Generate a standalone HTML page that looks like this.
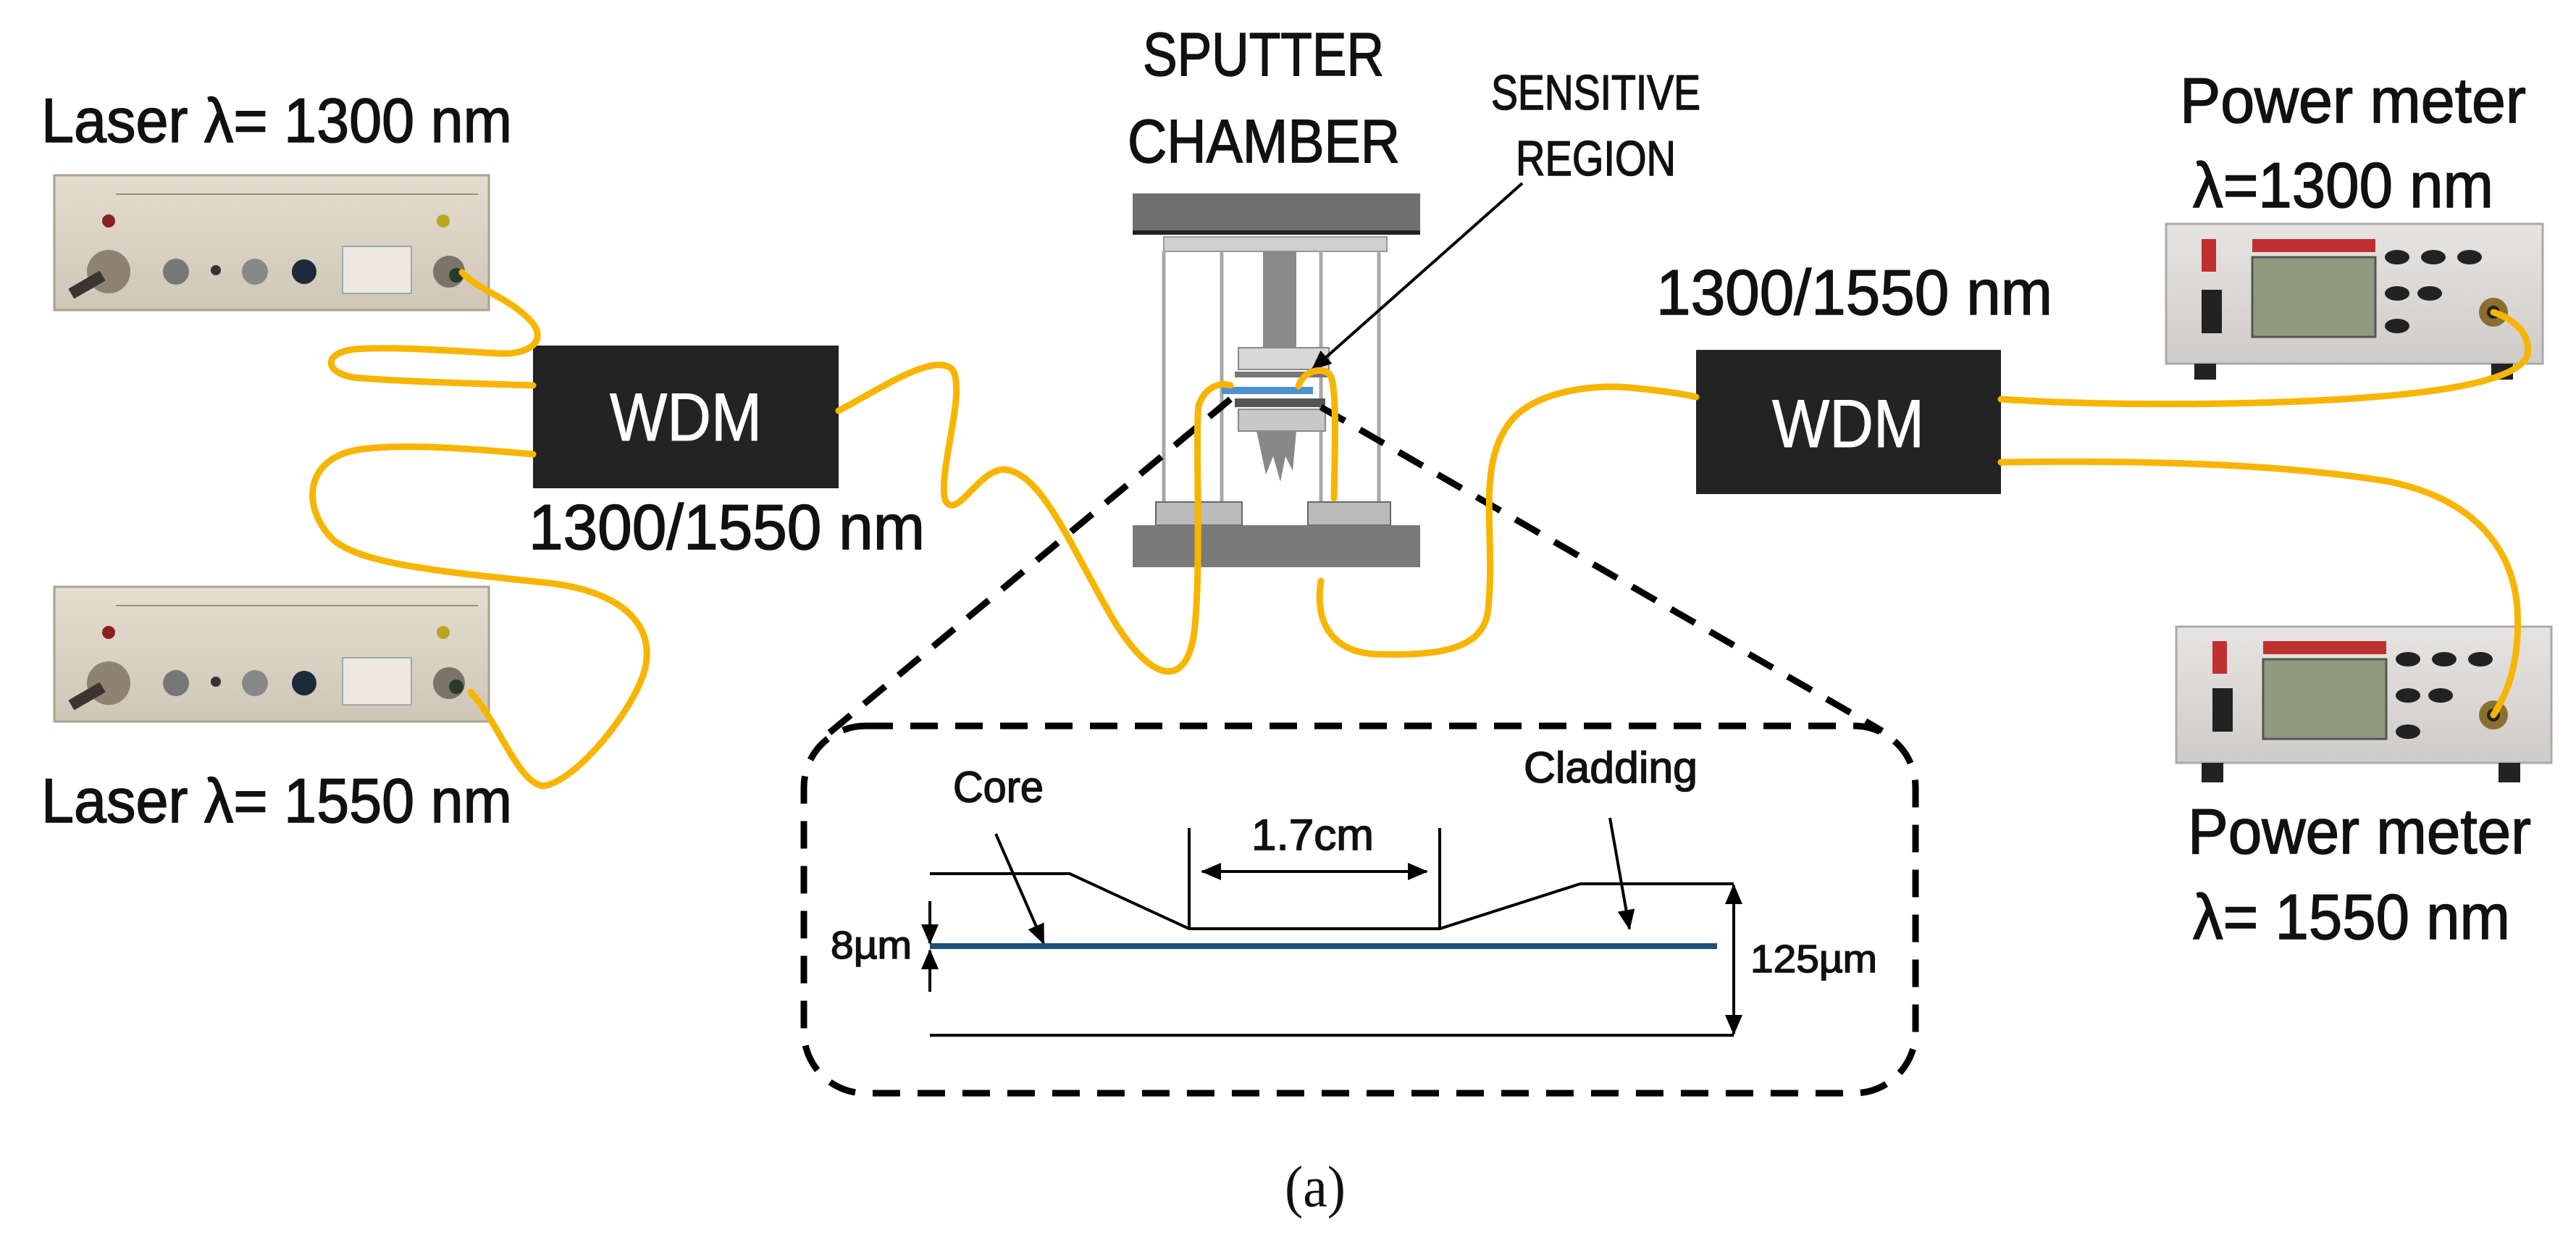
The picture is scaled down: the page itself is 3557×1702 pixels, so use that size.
<!DOCTYPE html>
<html><head><meta charset="utf-8"><style>
html,body{margin:0;padding:0;background:#fff;}
svg{display:block;}
text{font-family:"Liberation Sans",sans-serif;fill:#111;stroke:#111;stroke-width:1.5px;}
</style></head><body>
<svg width="3557" height="1702" viewBox="0 0 3557 1702" xmlns="http://www.w3.org/2000/svg">
<defs>
<linearGradient id="beige" x1="0" y1="0" x2="0" y2="1"><stop offset="0" stop-color="#e4ddd0"/><stop offset="1" stop-color="#cfc6b6"/></linearGradient>
<linearGradient id="pm" x1="0" y1="0" x2="0" y2="1"><stop offset="0" stop-color="#e6e4e2"/><stop offset="1" stop-color="#cfcbc8"/></linearGradient>
<marker id="ahb" markerWidth="28" markerHeight="24" refX="26" refY="12" orient="auto" markerUnits="userSpaceOnUse"><path d="M0,0 L28,12 L0,24 z" fill="#000"/></marker>
</defs>

<text x="57" y="196" font-size="86" textLength="650" lengthAdjust="spacingAndGlyphs">Laser λ= 1300 nm</text>
<text x="57" y="1135" font-size="86" textLength="650" lengthAdjust="spacingAndGlyphs">Laser λ= 1550 nm</text>
<text x="1578" y="104" font-size="84" textLength="333" lengthAdjust="spacingAndGlyphs">SPUTTER</text>
<text x="1557" y="224" font-size="84" textLength="376" lengthAdjust="spacingAndGlyphs">CHAMBER</text>
<text x="2059" y="151" font-size="68" textLength="289" lengthAdjust="spacingAndGlyphs">SENSITIVE</text>
<text x="2093" y="242" font-size="68" textLength="221" lengthAdjust="spacingAndGlyphs">REGION</text>
<text x="3010" y="169" font-size="88" textLength="478" lengthAdjust="spacingAndGlyphs">Power meter</text>
<text x="3028" y="286" font-size="88" textLength="415" lengthAdjust="spacingAndGlyphs">λ=1300 nm</text>
<text x="3021" y="1178" font-size="88" textLength="474" lengthAdjust="spacingAndGlyphs">Power meter</text>
<text x="3028" y="1296" font-size="88" textLength="438" lengthAdjust="spacingAndGlyphs">λ= 1550 nm</text>
<text x="730" y="758" font-size="88" textLength="547" lengthAdjust="spacingAndGlyphs">1300/1550 nm</text>
<text x="2287" y="434" font-size="88" textLength="547" lengthAdjust="spacingAndGlyphs">1300/1550 nm</text>

<g>
<rect x="75" y="242" width="600" height="186" fill="url(#beige)" stroke="#a9a090" stroke-width="3"/>
<line x1="160" y1="268" x2="660" y2="268" stroke="#9a9080" stroke-width="2"/>
<circle cx="150" cy="305" r="9" fill="#8a2020"/><circle cx="612" cy="305" r="9" fill="#b8a820"/>
<circle cx="150" cy="375" r="30" fill="#8e8270"/><rect x="95" y="385" width="50" height="16" fill="#3a3530" transform="rotate(-30 120 393)"/>
<circle cx="243" cy="375" r="18" fill="#777"/><circle cx="298" cy="373" r="7" fill="#333"/><circle cx="352" cy="375" r="18" fill="#888"/><circle cx="420" cy="375" r="17" fill="#1d2a3a"/>
<rect x="473" y="340" width="95" height="65" fill="#ece8e0" stroke="#9aa" stroke-width="2"/>
<circle cx="620" cy="375" r="22" fill="#7a7468"/><circle cx="630" cy="380" r="10" fill="#2a3a2a"/>
</g>
<g transform="translate(0,568)">
<rect x="75" y="242" width="600" height="186" fill="url(#beige)" stroke="#a9a090" stroke-width="3"/>
<line x1="160" y1="268" x2="660" y2="268" stroke="#9a9080" stroke-width="2"/>
<circle cx="150" cy="305" r="9" fill="#8a2020"/><circle cx="612" cy="305" r="9" fill="#b8a820"/>
<circle cx="150" cy="375" r="30" fill="#8e8270"/><rect x="95" y="385" width="50" height="16" fill="#3a3530" transform="rotate(-30 120 393)"/>
<circle cx="243" cy="375" r="18" fill="#777"/><circle cx="298" cy="373" r="7" fill="#333"/><circle cx="352" cy="375" r="18" fill="#888"/><circle cx="420" cy="375" r="17" fill="#1d2a3a"/>
<rect x="473" y="340" width="95" height="65" fill="#ece8e0" stroke="#9aa" stroke-width="2"/>
<circle cx="620" cy="375" r="22" fill="#7a7468"/><circle cx="630" cy="380" r="10" fill="#2a3a2a"/>
</g>

<g>
<rect x="2991" y="309" width="520" height="193" fill="url(#pm)" stroke="#aaa" stroke-width="3"/>
<rect x="3030" y="502" width="30" height="22" fill="#222"/><rect x="3440" y="502" width="30" height="22" fill="#222"/>
<rect x="3040" y="330" width="20" height="45" fill="#c03030"/>
<rect x="3040" y="400" width="28" height="60" fill="#222"/>
<rect x="3110" y="330" width="170" height="18" fill="#c03030"/>
<rect x="3110" y="355" width="170" height="110" fill="#8f9a7e" stroke="#555" stroke-width="3"/>
<g fill="#222"><ellipse cx="3310" cy="355" rx="17" ry="10"/><ellipse cx="3360" cy="355" rx="17" ry="10"/><ellipse cx="3410" cy="355" rx="17" ry="10"/><ellipse cx="3310" cy="405" rx="17" ry="10"/><ellipse cx="3355" cy="405" rx="17" ry="10"/><ellipse cx="3310" cy="450" rx="17" ry="10"/></g>
<circle cx="3443" cy="431" r="20" fill="#8a7030"/><circle cx="3443" cy="431" r="9" fill="#222"/>
</g>
<g>
<rect x="3005" y="865" width="518" height="188" fill="url(#pm)" stroke="#aaa" stroke-width="3"/>
<rect x="3040" y="1053" width="30" height="27" fill="#222"/><rect x="3450" y="1053" width="30" height="27" fill="#222"/>
<rect x="3055" y="885" width="20" height="45" fill="#c03030"/>
<rect x="3055" y="950" width="28" height="60" fill="#222"/>
<rect x="3125" y="885" width="170" height="18" fill="#c03030"/>
<rect x="3125" y="910" width="170" height="110" fill="#8f9a7e" stroke="#555" stroke-width="3"/>
<g fill="#222"><ellipse cx="3325" cy="910" rx="17" ry="10"/><ellipse cx="3375" cy="910" rx="17" ry="10"/><ellipse cx="3425" cy="910" rx="17" ry="10"/><ellipse cx="3325" cy="960" rx="17" ry="10"/><ellipse cx="3370" cy="960" rx="17" ry="10"/><ellipse cx="3325" cy="1010" rx="17" ry="10"/></g>
<circle cx="3443" cy="987" r="20" fill="#8a7030"/><circle cx="3443" cy="987" r="9" fill="#222"/>
</g>

<g>
<rect x="1564" y="267" width="397" height="57" fill="#6f6f6f"/>
<rect x="1564" y="318" width="397" height="6" fill="#222"/>
<rect x="1607" y="327" width="308" height="20" fill="#cfcfcf" stroke="#999" stroke-width="2"/>
<g stroke="#a8a8a8" stroke-width="5"><line x1="1607" y1="347" x2="1607" y2="698"/><line x1="1687" y1="347" x2="1687" y2="698"/><line x1="1824" y1="347" x2="1824" y2="698"/><line x1="1904" y1="347" x2="1904" y2="698"/></g>
<rect x="1744" y="347" width="46" height="140" fill="#8a8a8a"/>
<rect x="1710" y="480" width="125" height="30" fill="#d8d8d8" stroke="#888" stroke-width="2"/>
<rect x="1705" y="513" width="130" height="8" fill="#777"/>
<rect x="1687" y="534" width="126" height="10" fill="#4f8fd0"/>
<rect x="1705" y="550" width="125" height="12" fill="#555"/>
<rect x="1710" y="565" width="120" height="30" fill="#c8c8c8" stroke="#888" stroke-width="2"/>
<path d="M1735,595 L1790,595 L1785,650 L1775,630 L1768,665 L1758,630 L1748,655 Z" fill="#888"/>
<rect x="1596" y="693" width="119" height="32" fill="#bbb" stroke="#666" stroke-width="2"/>
<rect x="1806" y="693" width="114" height="32" fill="#bbb" stroke="#666" stroke-width="2"/>
<rect x="1564" y="725" width="397" height="58" fill="#7a7a7a"/>
</g>
<line x1="2102" y1="253" x2="1812" y2="510" stroke="#000" stroke-width="4" marker-end="url(#ahb)"/>

<g stroke="#000" stroke-width="9" stroke-dasharray="38,24" fill="none">
<line x1="1699" y1="551" x2="1129" y2="1025"/>
<line x1="1824" y1="562" x2="2599" y2="1009"/>
<rect x="1110" y="1002" width="1535" height="507" rx="85" ry="85"/>
</g>

<rect x="736" y="477" width="422" height="197" fill="#232323"/>
<text x="947" y="608" font-size="94" text-anchor="middle" style="fill:#fff;stroke:#fff;stroke-width:1px" textLength="210" lengthAdjust="spacingAndGlyphs">WDM</text>
<rect x="2342" y="483" width="421" height="199" fill="#232323"/>
<text x="2552" y="617" font-size="94" text-anchor="middle" style="fill:#fff;stroke:#fff;stroke-width:1px" textLength="210" lengthAdjust="spacingAndGlyphs">WDM</text>

<g stroke="#f7b500" stroke-width="9" fill="none" stroke-linecap="round" stroke-linejoin="round">
<path d="M638,376 C660,400 700,410 730,440 C760,470 730,490 690,488 C620,484 540,478 490,482 C440,488 450,520 500,522 C580,528 680,530 736,532"/>
<path d="M736,627 C660,620 560,612 500,620 C420,630 415,700 460,745 C500,780 620,790 760,805 C880,820 910,880 885,940 C860,1000 790,1080 750,1085 C715,1080 690,1000 650,955"/>
<path d="M1158,567 C1210,540 1290,485 1315,510 C1335,540 1295,650 1305,690 C1320,720 1350,650 1385,648 C1440,650 1480,760 1540,860 C1590,940 1635,950 1648,880 C1660,800 1650,600 1655,560 C1665,530 1690,528 1699,532"/>
<path d="M1793,533 C1800,510 1830,505 1838,520 C1845,540 1844,600 1842,688"/>
<path d="M1824,802 C1815,860 1840,900 1900,903 C1980,905 2050,900 2055,840 C2065,740 2040,650 2080,590 C2110,540 2200,530 2250,535 C2300,540 2330,545 2342,548"/>
<path d="M2763,551 C2900,560 3100,560 3250,550 C3400,540 3480,520 3490,490 C3495,460 3470,440 3443,431"/>
<path d="M2763,638 C2950,635 3150,640 3300,665 C3420,690 3470,760 3476,840 C3480,920 3460,960 3443,987"/>
</g>

<g stroke="#000" stroke-width="4" fill="none">
<polyline points="1284,1206 1477,1206 1642,1282 1988,1282 2182,1220 2394,1220"/>
<line x1="1284" y1="1429" x2="2394" y2="1429"/>
<line x1="1642" y1="1143" x2="1642" y2="1282"/>
<line x1="1988" y1="1143" x2="1988" y2="1282"/>
<line x1="1660" y1="1203" x2="1970" y2="1203" marker-end="url(#ahb)"/>
<line x1="1970" y1="1203" x2="1660" y2="1203" marker-end="url(#ahb)"/>
<line x1="2394" y1="1240" x2="2394" y2="1410"/>
<line x1="2394" y1="1300" x2="2394" y2="1222" marker-end="url(#ahb)"/>
<line x1="2394" y1="1350" x2="2394" y2="1427" marker-end="url(#ahb)"/>
<line x1="1284" y1="1244" x2="1284" y2="1302" marker-end="url(#ahb)"/>
<line x1="1284" y1="1369" x2="1284" y2="1312" marker-end="url(#ahb)"/>
<line x1="1375" y1="1151" x2="1441" y2="1302" marker-end="url(#ahb)"/>
<line x1="2223" y1="1129" x2="2250" y2="1282" marker-end="url(#ahb)"/>
</g>
<rect x="1284" y="1302" width="1087" height="8" fill="#1f4e79"/>
<text x="1728" y="1173" font-size="60" textLength="169" lengthAdjust="spacingAndGlyphs">1.7cm</text>
<text x="1316" y="1107" font-size="60" textLength="125" lengthAdjust="spacingAndGlyphs">Core</text>
<text x="2104" y="1080" font-size="60" textLength="240" lengthAdjust="spacingAndGlyphs">Cladding</text>
<text x="1147" y="1323" font-size="54" textLength="112" lengthAdjust="spacingAndGlyphs">8µm</text>
<text x="2417" y="1342" font-size="54" textLength="175" lengthAdjust="spacingAndGlyphs">125µm</text>
<text x="1774" y="1665" font-size="80" style="font-family:'Liberation Serif',serif;stroke-width:0" textLength="84" lengthAdjust="spacingAndGlyphs">(a)</text>
</svg>
</body></html>
